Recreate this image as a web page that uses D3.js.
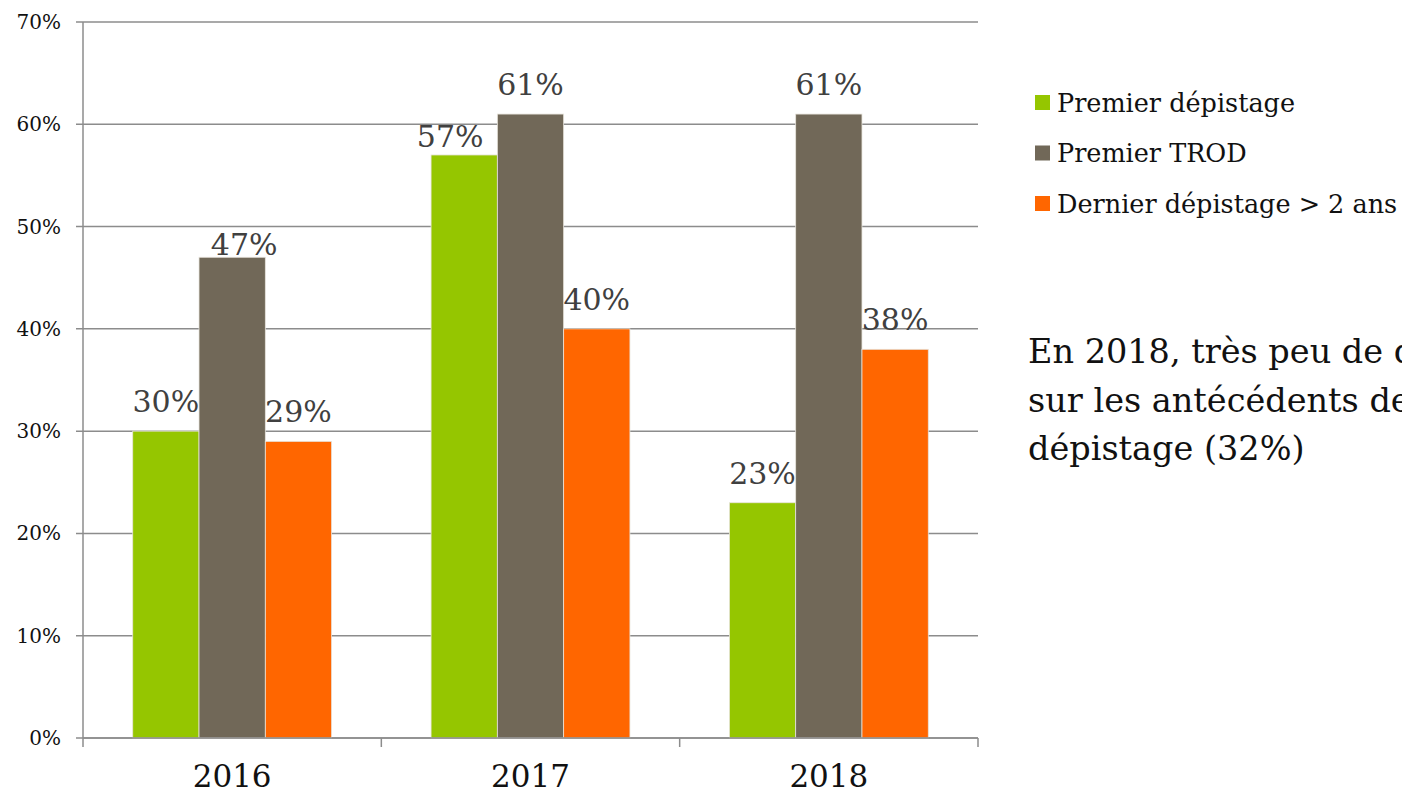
<!DOCTYPE html>
<html>
<head>
<meta charset="utf-8">
<script src="https://cdn.jsdelivr.net/npm/d3@7"></script>
<style>
  body { margin: 0; background: #fff; overflow: hidden; }
  svg { display: block; font-family: "DejaVu Serif", "Liberation Serif", serif; }
</style>
</head>
<body>
<div id="chart"></div>
<script>
// DATA
var years = ["2016", "2017", "2018"];
var seriesNames = ["Premier dépistage", "Premier TROD", "Dernier dépistage > 2 ans"];
var premierDepistage = [30, 57, 23];
var premierTrod = [47, 61, 61];
var dernierDepistage = [29, 40, 38];
var yTicks = [0, 10, 20, 30, 40, 50, 60, 70];
var noteLines = ["En 2018, très peu de données", "sur les antécédents de", "dépistage (32%)"];

var colors = ["#95c600", "#716858", "#ff6600"];
var seriesValues = [premierDepistage, premierTrod, dernierDepistage];

// a couple of labels were dragged by hand in the original: [dx, lift]
var labelNudge = { "0-1": [12, 2], "1-0": [-14, 8] };

var width = 1402, height = 793;
var plotL = 83, plotR = 978, plotT = 22, plotB = 738;

var svg = d3.select("#chart").append("svg")
  .attr("width", width)
  .attr("height", height);

var x = d3.scaleBand().domain(years).range([plotL, plotR]).paddingInner(0).paddingOuter(0);
var inner = d3.scaleBand().domain(d3.range(3)).range([0, x.bandwidth()])
  .paddingInner(0).paddingOuter(0.75);
var y = d3.scaleLinear().domain([0, 70]).range([plotB, plotT]);

// gridlines + y labels
svg.append("g").selectAll("line")
  .data(yTicks)
  .enter().append("line")
  .attr("x1", plotL - 7).attr("x2", plotR)
  .attr("y1", function(d) { return y(d); })
  .attr("y2", function(d) { return y(d); })
  .attr("stroke", "#8c8c8c")
  .attr("stroke-width", 1.5);

svg.append("g").selectAll("text")
  .data(yTicks)
  .enter().append("text")
  .attr("x", plotL - 22)
  .attr("y", function(d) { return y(d); })
  .attr("dy", "0.35em")
  .attr("text-anchor", "end")
  .attr("font-size", 20)
  .attr("fill", "#111")
  .text(function(d) { return d + "%"; });

// bars
var groups = svg.append("g").selectAll("g")
  .data(years)
  .enter().append("g")
  .attr("transform", function(d) { return "translate(" + x(d) + ",0)"; });

groups.each(function(yr, i) {
  var g = d3.select(this);
  var data = seriesValues.map(function(s, k) {
    var n = labelNudge[i + "-" + k] || [0, 19];
    return { k: k, v: s[i], dx: n[0], lift: n[1] };
  });
  g.selectAll("rect")
    .data(data)
    .enter().append("rect")
    .attr("x", function(d) { return inner(d.k); })
    .attr("width", inner.bandwidth())
    .attr("y", function(d) { return y(d.v); })
    .attr("height", function(d) { return y(0) - y(d.v); })
    .attr("fill", function(d) { return colors[d.k]; })
    .attr("stroke", "#e8e4dc")
    .attr("stroke-width", 0.8);
  g.selectAll("text")
    .data(data)
    .enter().append("text")
    .attr("x", function(d) { return inner(d.k) + inner.bandwidth() / 2 + d.dx; })
    .attr("y", function(d) { return y(d.v) - d.lift; })
    .attr("text-anchor", "middle")
    .attr("font-size", 30)
    .attr("fill", "#404040")
    .text(function(d) { return d.v + "%"; });
});

// axes lines
svg.append("line")
  .attr("x1", plotL).attr("x2", plotL)
  .attr("y1", plotT).attr("y2", plotB)
  .attr("stroke", "#8c8c8c").attr("stroke-width", 1.5);
svg.append("line")
  .attr("x1", plotL).attr("x2", plotR)
  .attr("y1", plotB).attr("y2", plotB)
  .attr("stroke", "#8c8c8c").attr("stroke-width", 1.5);

var xTickPos = years.map(function(d) { return x(d); }).concat([plotR]);
svg.append("g").selectAll("line")
  .data(xTickPos)
  .enter().append("line")
  .attr("x1", function(d) { return d; }).attr("x2", function(d) { return d; })
  .attr("y1", plotB).attr("y2", plotB + 9)
  .attr("stroke", "#8c8c8c").attr("stroke-width", 1.5);

svg.append("g").selectAll("text")
  .data(years)
  .enter().append("text")
  .attr("x", function(d) { return x(d) + x.bandwidth() / 2; })
  .attr("y", 787)
  .attr("text-anchor", "middle")
  .attr("font-size", 31)
  .attr("fill", "#111")
  .text(function(d) { return d; });

// legend
var legend = svg.append("g").selectAll("g")
  .data(seriesNames)
  .enter().append("g")
  .attr("transform", function(d, i) { return "translate(1035," + (103 + i * 50.5) + ")"; });
legend.append("rect")
  .attr("x", 0).attr("y", -8)
  .attr("width", 15).attr("height", 15)
  .attr("fill", function(d, i) { return colors[i]; });
legend.append("text")
  .attr("x", 22)
  .attr("y", 0)
  .attr("dy", "0.35em")
  .attr("font-size", 25.5)
  .attr("fill", "#111")
  .text(function(d) { return d; });

// note
svg.append("g").selectAll("text")
  .data(noteLines)
  .enter().append("text")
  .attr("x", 1028)
  .attr("y", function(d, i) { return 363 + i * 48.5; })
  .attr("font-size", 33.5)
  .attr("fill", "#111")
  .text(function(d) { return d; });
</script>
</body>
</html>
